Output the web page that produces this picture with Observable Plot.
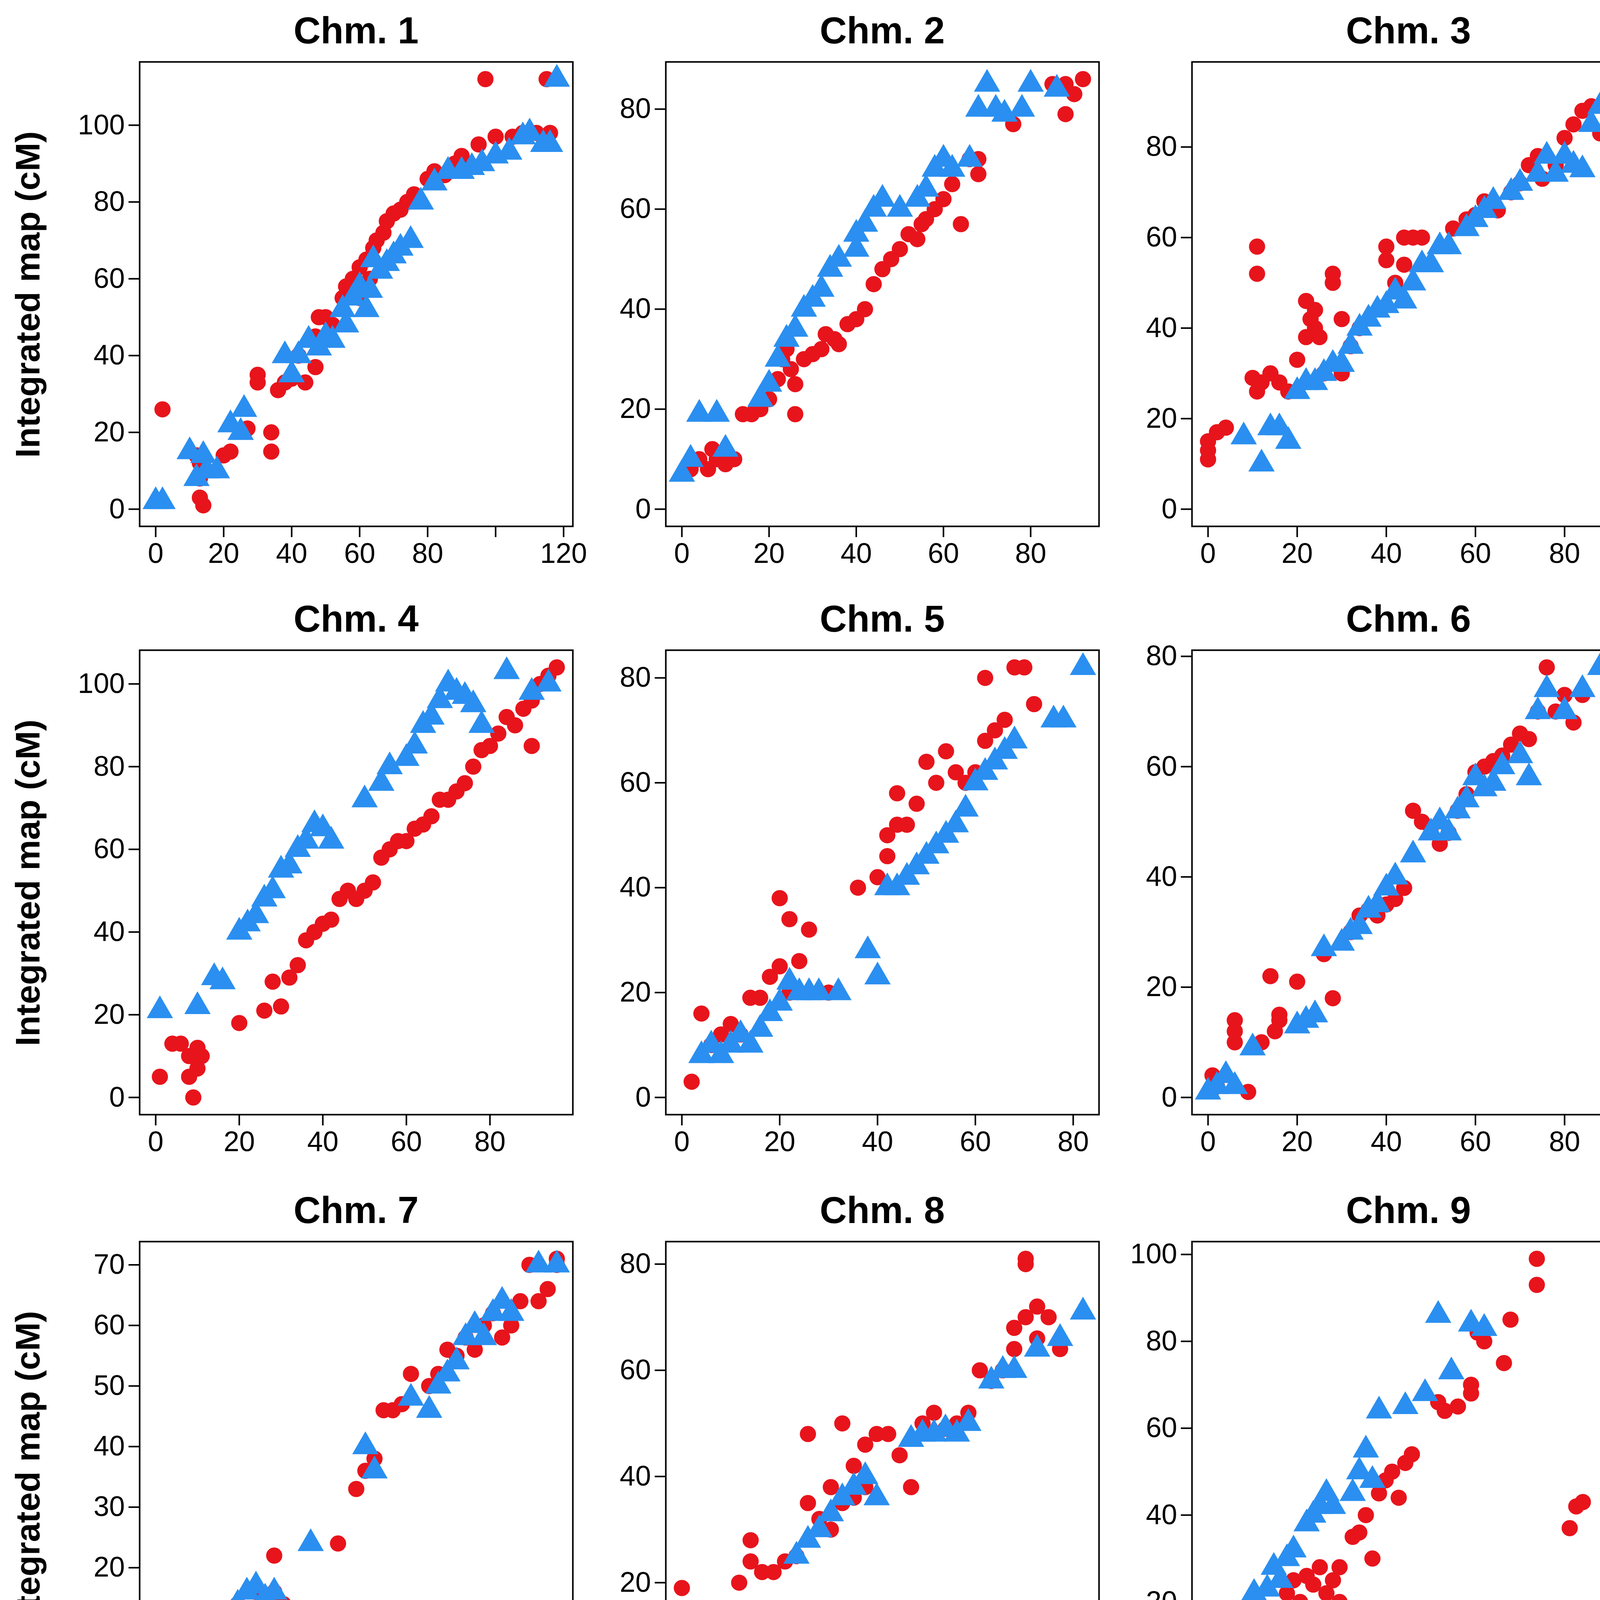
<!DOCTYPE html>
<html><head><meta charset="utf-8">
<script src="https://cdn.jsdelivr.net/npm/d3@7"></script>
<script src="https://cdn.jsdelivr.net/npm/@observablehq/plot@0.6"></script>
<style>
body{margin:0;background:#fff;font-family:"Liberation Sans",Arial,sans-serif;}
#root{position:relative;width:4200px;height:6200px;overflow:hidden;}
.t{position:absolute;font-weight:bold;text-align:center;white-space:nowrap;}
svg{position:absolute;overflow:visible;}
</style></head><body><div id="root"></div>
<script>
const titles=["Chm. 1","Chm. 2","Chm. 3","Chm. 4","Chm. 5","Chm. 6","Chm. 7","Chm. 8","Chm. 9","Chm. 10","Chm. 11","Chm. 12"];
const hackett=[
[[2,26],[12,14],[13,8],[13,3],[14,1],[13,12],[20,14],[22,15],[27,21],[30,35],[30,33],[34,15],[34,20],[36,31],[38,33],[40,34],[42,40],[44,33],[47,37],[47,45],[48,50],[50,50],[52,48],[55,55],[56,58],[58,60],[60,63],[60,55],[62,65],[63,60],[64,68],[65,70],[67,72],[68,75],[70,77],[72,78],[74,80],[76,82],[80,86],[82,88],[85,87],[88,90],[90,92],[95,95],[97,112],[100,97],[105,97],[108,98],[112,98],[115,112],[116,98]],
[[2,8],[4,10],[6,8],[7,12],[8,10],[9,11],[10,9],[12,10],[14,19],[16,19],[18,20],[20,22],[22,26],[23,30],[24,32],[25,28],[26,25],[26,19],[28,30],[30,31],[32,32],[33,35],[35,34],[36,33],[38,37],[40,38],[42,40],[44,45],[46,48],[48,50],[50,52],[52,55],[54,54],[55,57],[56,58],[58,60],[60,62],[62,65],[64,57],[66,70],[68,70],[68,67],[76,77],[85,85],[88,85],[88,79],[90,83],[92,86]],
[[0,11],[0,13],[0,15],[2,17],[4,18],[10,29],[11,26],[11,52],[11,58],[12,28],[14,30],[16,28],[18,26],[20,33],[22,38],[22,46],[23,42],[24,40],[24,44],[25,38],[26,30],[28,50],[28,52],[30,42],[30,30],[32,36],[34,40],[40,55],[40,58],[42,50],[44,54],[44,60],[46,60],[48,60],[55,62],[58,64],[60,65],[62,68],[65,66],[68,70],[70,72],[72,76],[74,78],[75,73],[78,76],[80,82],[82,85],[84,88],[86,89],[90,95],[88,83]],
[[1,5],[4,13],[6,13],[8,10],[8,5],[9,0],[10,12],[10,7],[11,10],[20,18],[26,21],[28,28],[30,22],[32,29],[34,32],[36,38],[38,40],[40,42],[42,43],[44,48],[46,50],[48,48],[50,50],[52,52],[54,58],[56,60],[58,62],[60,62],[62,65],[64,66],[66,68],[68,72],[70,72],[72,74],[74,76],[76,80],[78,84],[80,85],[82,88],[84,92],[86,90],[88,94],[90,96],[92,100],[94,102],[96,104],[90,85]],
[[2,3],[4,16],[6,10],[8,12],[10,14],[12,12],[14,19],[16,19],[18,23],[20,25],[20,38],[22,34],[22,20],[24,26],[26,32],[30,20],[36,40],[40,42],[42,46],[42,50],[44,52],[44,58],[46,52],[48,56],[50,64],[52,60],[54,66],[56,62],[58,60],[60,62],[62,68],[64,70],[66,72],[68,82],[70,82],[72,75],[62,80]],
[[1,4],[2,2],[6,14],[6,12],[6,10],[9,1],[12,10],[14,22],[15,12],[16,14],[16,15],[20,21],[26,26],[28,18],[32,30],[34,33],[36,34],[38,33],[40,35],[42,36],[44,38],[46,52],[48,50],[50,49],[52,46],[54,48],[56,52],[58,55],[60,59],[62,60],[64,61],[66,62],[68,64],[70,66],[72,65],[74,70],[76,78],[78,70],[80,73],[82,68],[84,73],[90,68]],
[[1,3],[1,2],[10,1],[12,0],[14,7],[16,9],[18,14],[20,12],[22,16],[24,14],[26,16],[26,22],[28,14],[40,24],[44,33],[46,36],[48,38],[50,46],[52,46],[54,47],[56,52],[60,50],[62,52],[64,56],[66,55],[68,58],[70,56],[72,60],[74,62],[76,58],[78,60],[80,64],[82,70],[84,64],[86,66],[88,70],[88,71]],
[[0,19],[0,15],[0,7],[4,10],[4,5],[4,2],[4,0],[6,7],[10,14],[10,20],[12,24],[12,28],[14,22],[15,8],[16,22],[18,24],[20,25],[22,35],[22,48],[24,32],[26,30],[26,38],[28,35],[28,50],[30,36],[30,42],[32,38],[32,46],[34,48],[36,48],[38,44],[40,38],[42,50],[44,52],[46,49],[48,50],[50,52],[52,60],[54,58],[56,60],[58,68],[58,64],[60,80],[60,81],[60,70],[62,72],[62,66],[64,70],[66,64]],
[[2,17],[4,12],[18,10],[20,0],[20,14],[22,9],[24,22],[26,25],[28,20],[30,26],[32,24],[34,28],[36,22],[38,25],[40,28],[40,20],[44,35],[46,36],[48,40],[50,30],[52,45],[54,48],[56,50],[58,44],[60,52],[62,54],[70,66],[72,64],[76,65],[80,68],[80,70],[82,82],[84,80],[90,75],[92,85],[100,93],[100,99],[110,37],[112,42],[114,43],[122,86],[122,82]],
[[4,16],[6,13],[6,7],[6,6],[8,0],[6,21],[8,22],[10,26],[12,24],[14,22],[16,28],[18,28],[20,30],[22,33],[24,32],[26,38],[28,40],[30,45],[32,36],[34,40],[36,46],[38,47],[40,55],[42,56],[44,52],[46,50],[48,52],[50,55],[52,66],[56,55],[60,60],[62,72],[64,80],[66,70],[66,68],[68,82],[68,78],[70,72],[70,80],[72,82],[74,70],[74,76],[76,78]],
[[18,9],[20,12],[22,11],[24,12],[26,18],[28,18],[30,22],[30,25],[32,29],[34,21],[36,22],[36,34],[38,36],[40,40],[42,36],[44,37],[46,42],[48,42],[50,50],[52,50],[54,52],[56,54],[58,57],[60,55],[62,56],[64,52],[66,60],[68,62],[70,60],[74,64],[76,66],[80,68],[86,70],[88,72],[90,74],[94,75],[96,72],[96,68]],
[[0,0],[0,8],[4,8],[6,12],[8,8],[14,13],[16,14],[22,18],[24,13],[24,21],[26,22],[28,24],[30,26],[32,28],[34,30],[36,28],[38,32],[40,35],[42,38],[44,36],[46,44],[48,52],[50,44],[52,52],[54,48],[58,60],[60,62],[64,58],[68,64],[72,72],[76,68],[78,78],[80,78],[82,70],[84,78],[88,78]]
];
const massa=[
[[0,2],[2,2],[10,15],[12,8],[14,14],[15,10],[18,10],[22,22],[25,20],[26,26],[38,40],[40,35],[42,40],[45,44],[48,42],[50,45],[52,44],[55,52],[56,48],[58,55],[60,58],[62,52],[63,57],[64,65],[66,62],[68,64],[70,66],[72,68],[75,70],[78,80],[82,85],[86,88],[90,88],[93,89],[96,90],[100,92],[104,93],[108,97],[110,98],[114,95],[118,112],[116,95]],
[[0,7],[2,10],[4,19],[8,19],[10,12],[18,22],[20,25],[22,30],[24,34],[26,36],[28,40],[30,42],[32,44],[34,48],[36,50],[40,52],[40,55],[42,57],[44,60],[46,62],[50,60],[54,62],[56,64],[58,68],[60,70],[62,68],[66,70],[68,80],[70,85],[72,80],[74,79],[78,80],[80,85],[86,84]],
[[8,16],[12,10],[14,18],[16,18],[18,15],[20,26],[22,28],[24,28],[26,30],[28,32],[30,32],[32,36],[34,40],[36,42],[38,44],[40,45],[42,48],[44,46],[46,50],[48,54],[50,54],[52,58],[54,58],[58,62],[60,64],[62,66],[64,68],[68,70],[70,72],[74,74],[76,78],[78,74],[80,78],[82,76],[84,75],[86,85],[88,89],[90,90]],
[[1,21],[10,22],[14,29],[16,28],[20,40],[22,42],[24,44],[26,48],[28,50],[30,55],[32,56],[34,60],[36,62],[38,66],[40,65],[42,62],[50,72],[54,76],[56,80],[60,82],[62,85],[64,90],[66,92],[68,96],[70,100],[72,98],[74,97],[76,95],[78,90],[84,103],[90,98],[94,100]],
[[4,8],[6,10],[8,8],[10,10],[12,12],[14,10],[16,13],[18,16],[20,18],[22,22],[24,20],[26,20],[28,20],[32,20],[38,28],[40,23],[42,40],[44,40],[46,42],[48,44],[50,46],[52,48],[54,50],[56,52],[58,55],[60,60],[62,62],[64,64],[66,66],[68,68],[76,72],[78,72],[82,82]],
[[0,1],[2,2],[4,4],[6,2],[10,9],[20,13],[22,14],[24,15],[26,27],[30,28],[32,30],[34,31],[36,34],[38,35],[40,38],[42,40],[46,44],[50,48],[52,50],[54,48],[56,52],[58,54],[60,58],[62,56],[64,57],[66,60],[70,62],[72,58],[74,70],[76,74],[80,70],[84,74],[88,78]],
[[4,2],[8,10],[10,9],[18,14],[20,16],[22,17],[24,15],[26,16],[34,24],[46,40],[48,36],[56,48],[60,46],[62,50],[64,52],[66,54],[68,58],[70,60],[72,58],[74,62],[76,64],[78,62],[84,70],[88,70]],
[[0,8],[0,6],[2,5],[4,8],[6,9],[8,8],[12,8],[20,25],[22,28],[24,30],[26,33],[28,36],[30,38],[32,40],[34,36],[40,47],[42,48],[44,48],[46,49],[48,48],[50,50],[54,58],[56,60],[58,60],[62,64],[66,66],[70,71]],
[[2,10],[8,17],[14,22],[18,23],[20,28],[22,25],[24,30],[26,32],[30,38],[32,40],[34,42],[36,45],[38,42],[44,45],[46,50],[48,55],[50,48],[52,64],[60,65],[66,68],[70,86],[74,73],[80,84],[84,83]],
[[0,8],[4,16],[6,22],[10,14],[12,22],[18,22],[20,24],[22,30],[24,32],[28,36],[30,38],[34,40],[38,42],[42,55],[44,52],[46,54],[48,50],[52,54],[54,52],[56,55],[58,51],[60,54],[70,60],[72,65],[74,71],[76,68],[78,82],[84,82],[86,82]],
[[14,11],[16,8],[18,10],[20,9],[22,9],[24,14],[26,17],[28,20],[30,24],[32,26],[36,30],[38,34],[40,35],[44,40],[46,42],[48,43],[50,48],[52,50],[56,52],[58,54],[60,56],[62,58],[64,60],[66,58],[70,65],[72,66],[76,68],[80,70],[86,75],[88,74]],
[[2,8],[6,8],[8,8],[12,8],[18,18],[26,20],[30,22],[34,26],[36,28],[38,30],[40,32],[42,34],[44,30],[46,36],[48,38],[50,40],[52,37],[54,34],[58,62],[60,60],[62,58],[80,70],[86,78],[90,78]]
];
const xTicks=[[0,20,40,60,80,100,120],[0,20,40,60,80],[0,20,40,60,80],[0,20,40,60,80],[0,20,40,60,80],[0,20,40,60,80],[0,20,40,60,80],[0,20,40,60,80],[0,20,40,60,80,100,120],[0,20,40,60,80],[0,20,40,60,80,100],[0,20,40,60,80]];
const xHidden=[[100],[],[],[],[],[],[],[],[100],[],[],[]];
const yTicks=[[0,20,40,60,80,100],[0,20,40,60,80],[0,20,40,60,80],[0,20,40,60,80,100],[0,20,40,60,80],[0,20,40,60,80],[0,10,20,30,40,50,60,70],[0,20,40,60,80],[0,20,40,60,80,100],[0,20,40,60,80],[0,20,40,60],[0,20,40,60,80]];
const legendLabels=["Hackett","Massa"];
const RED="#e8141c", BLUE="#2a8ff0";
const colL=[357,1704,3051], rowT=[158,1664,3178,4687], FW=1109, FH=1189;
const ML=170, MT=10, MR=20, MB=150;
const root=document.getElementById("root");
const FONT='"Liberation Sans",Arial,sans-serif';
for(let i=0;i<12;i++){
  const c=i%3, r=Math.floor(i/3);
  const all=hackett[i].concat(massa[i]);
  const xm=d3.max(all,d=>d[0]), ym=d3.max(all,d=>d[1]);
  const hid=new Set(xHidden[i]);
  const p=Plot.plot({
    width:FW+ML+MR,height:FH+MT+MB,marginLeft:ML,marginRight:MR,marginTop:MT,marginBottom:MB,
    style:{fontFamily:FONT,fontSize:"72px",color:"#000",background:"none",overflow:"visible"},
    x:{domain:[-0.04*xm,1.04*xm]},
    y:{domain:[-0.04*ym,1.04*ym]},
    marks:[
      Plot.frame({stroke:"#000",strokeWidth:4}),
      Plot.axisX({ticks:xTicks[i],tickSize:28,tickPadding:14,strokeWidth:4,tickFormat:d=>hid.has(d)?"":String(d),label:null,fontSize:72}),
      Plot.axisY({ticks:yTicks[i],tickSize:28,tickPadding:10,strokeWidth:4,label:null,fontSize:72}),
      Plot.dot(hackett[i],{x:d=>d[0],y:d=>d[1],r:20,fill:RED,stroke:RED,symbol:"circle"}),
      Plot.dot(massa[i],{x:d=>d[0],y:d=>d[1],r:25,fill:BLUE,symbol:"triangle"})
    ]
  });
  p.style.left=(colL[c]-ML)+"px"; p.style.top=(rowT[r]-MT)+"px";
  root.appendChild(p);
  const t=document.createElement("div");t.className="t";t.textContent=titles[i];
  t.style.cssText+=`left:${colL[c]}px;width:${FW}px;top:${rowT[r]-135}px;font-size:96px;`;
  root.appendChild(t);
}
for(let r=0;r<4;r++){
  const t=document.createElement("div");t.className="t";t.textContent="Integrated map (cM)";
  t.style.cssText+=`left:${70-FH/2}px;width:${FH}px;top:${rowT[r]+FH/2-50}px;font-size:88px;transform:rotate(-90deg);`;
  root.appendChild(t);
}
for(let c=0;c<3;c++){
  const t=document.createElement("div");t.className="t";t.textContent="Previous maps (cM)";
  t.style.cssText+=`left:${colL[c]}px;width:${FW}px;top:${6060}px;font-size:88px;`;
  root.appendChild(t);
}
const lg=document.createElement("div");
lg.style.cssText="position:absolute;left:3697px;top:5547px;width:455px;height:305px;border:4px solid #000;background:#fff;font-size:76px;";
lg.innerHTML=`<div style="position:absolute;left:50px;top:40px;width:44px;height:44px;border-radius:50%;background:${RED}"></div>
<div style="position:absolute;left:150px;top:18px">${legendLabels[0]}</div>
<svg style="position:absolute;left:44px;top:160px" width="56" height="50"><polygon points="28,2 54,48 2,48" fill="${BLUE}"/></svg>
<div style="position:absolute;left:150px;top:130px">${legendLabels[1]}</div>`;
root.appendChild(lg);
</script></body></html>
